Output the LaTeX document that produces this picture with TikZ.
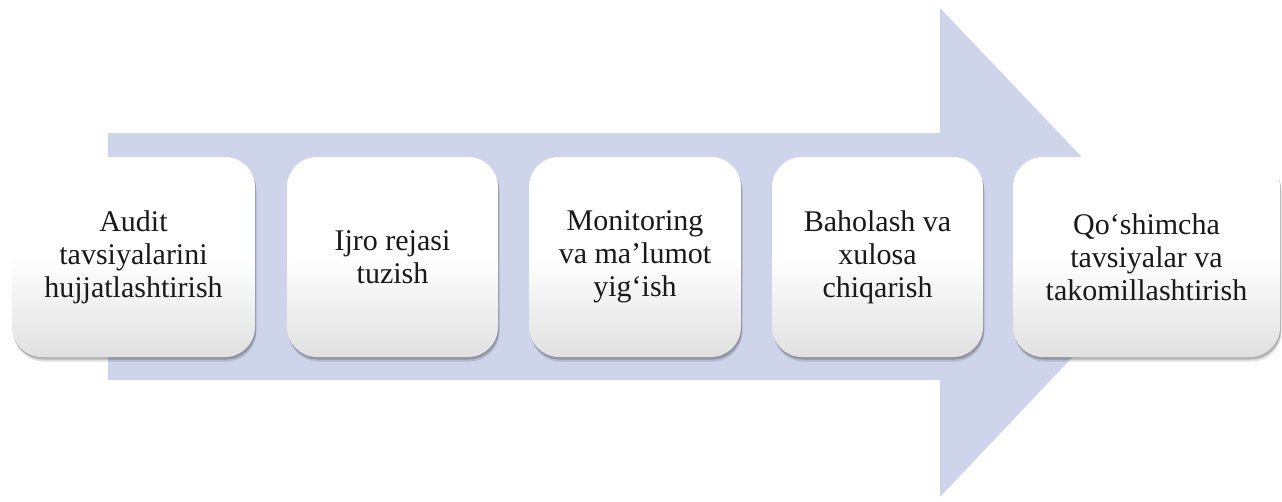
\documentclass[tikz,border=0pt]{standalone}
\usepackage{fontspec}
\setmainfont{Liberation Serif}
\usetikzlibrary{shadows}
\definecolor{arrowblue}{HTML}{CED4EA}
\tikzset{
  stepbox/.style={draw=none, rounded corners=30pt,
    top color=white, bottom color=black!12, middle color=white,
    drop shadow={shadow xshift=1.5pt, shadow yshift=-4.5pt, fill=black, opacity=0.12},
    drop shadow={shadow xshift=1pt, shadow yshift=-2.5pt, fill=black, opacity=0.2},
    minimum height=200pt, inner sep=0pt, align=center, text=black!90,
    font=\fontsize{30}{33}\selectfont}
}
\begin{document}
\begin{tikzpicture}[x=1pt,y=-1pt]
 \useasboundingbox (0,0) rectangle (1282,501);
 % big arrow behind the steps
 \fill[arrowblue] (108,133) -- (940,133) -- (940,8) -- (1172,252) -- (940,497) -- (940,380) -- (108,380) -- cycle;
 % steps
 \node[stepbox, minimum width=243pt] (audit) at (133.5,257) {Audit\\tavsiyalarini\\hujjatlashtirish};
 \node[stepbox, minimum width=211pt] (ijro) at (392.5,257) {Ijro rejasi\\tuzish};
 \node[stepbox, minimum width=212pt] (monitor) at (635,257) {Monitoring\\va ma’lumot\\yig‘ish};
 \node[stepbox, minimum width=211pt] (baho) at (877.5,257) {Baholash va\\xulosa\\chiqarish};
 \node[stepbox, minimum width=267pt] (qoshimcha) at (1146.5,257) {Qo‘shimcha\\tavsiyalar va\\takomillashtirish};
\end{tikzpicture}
\end{document}
